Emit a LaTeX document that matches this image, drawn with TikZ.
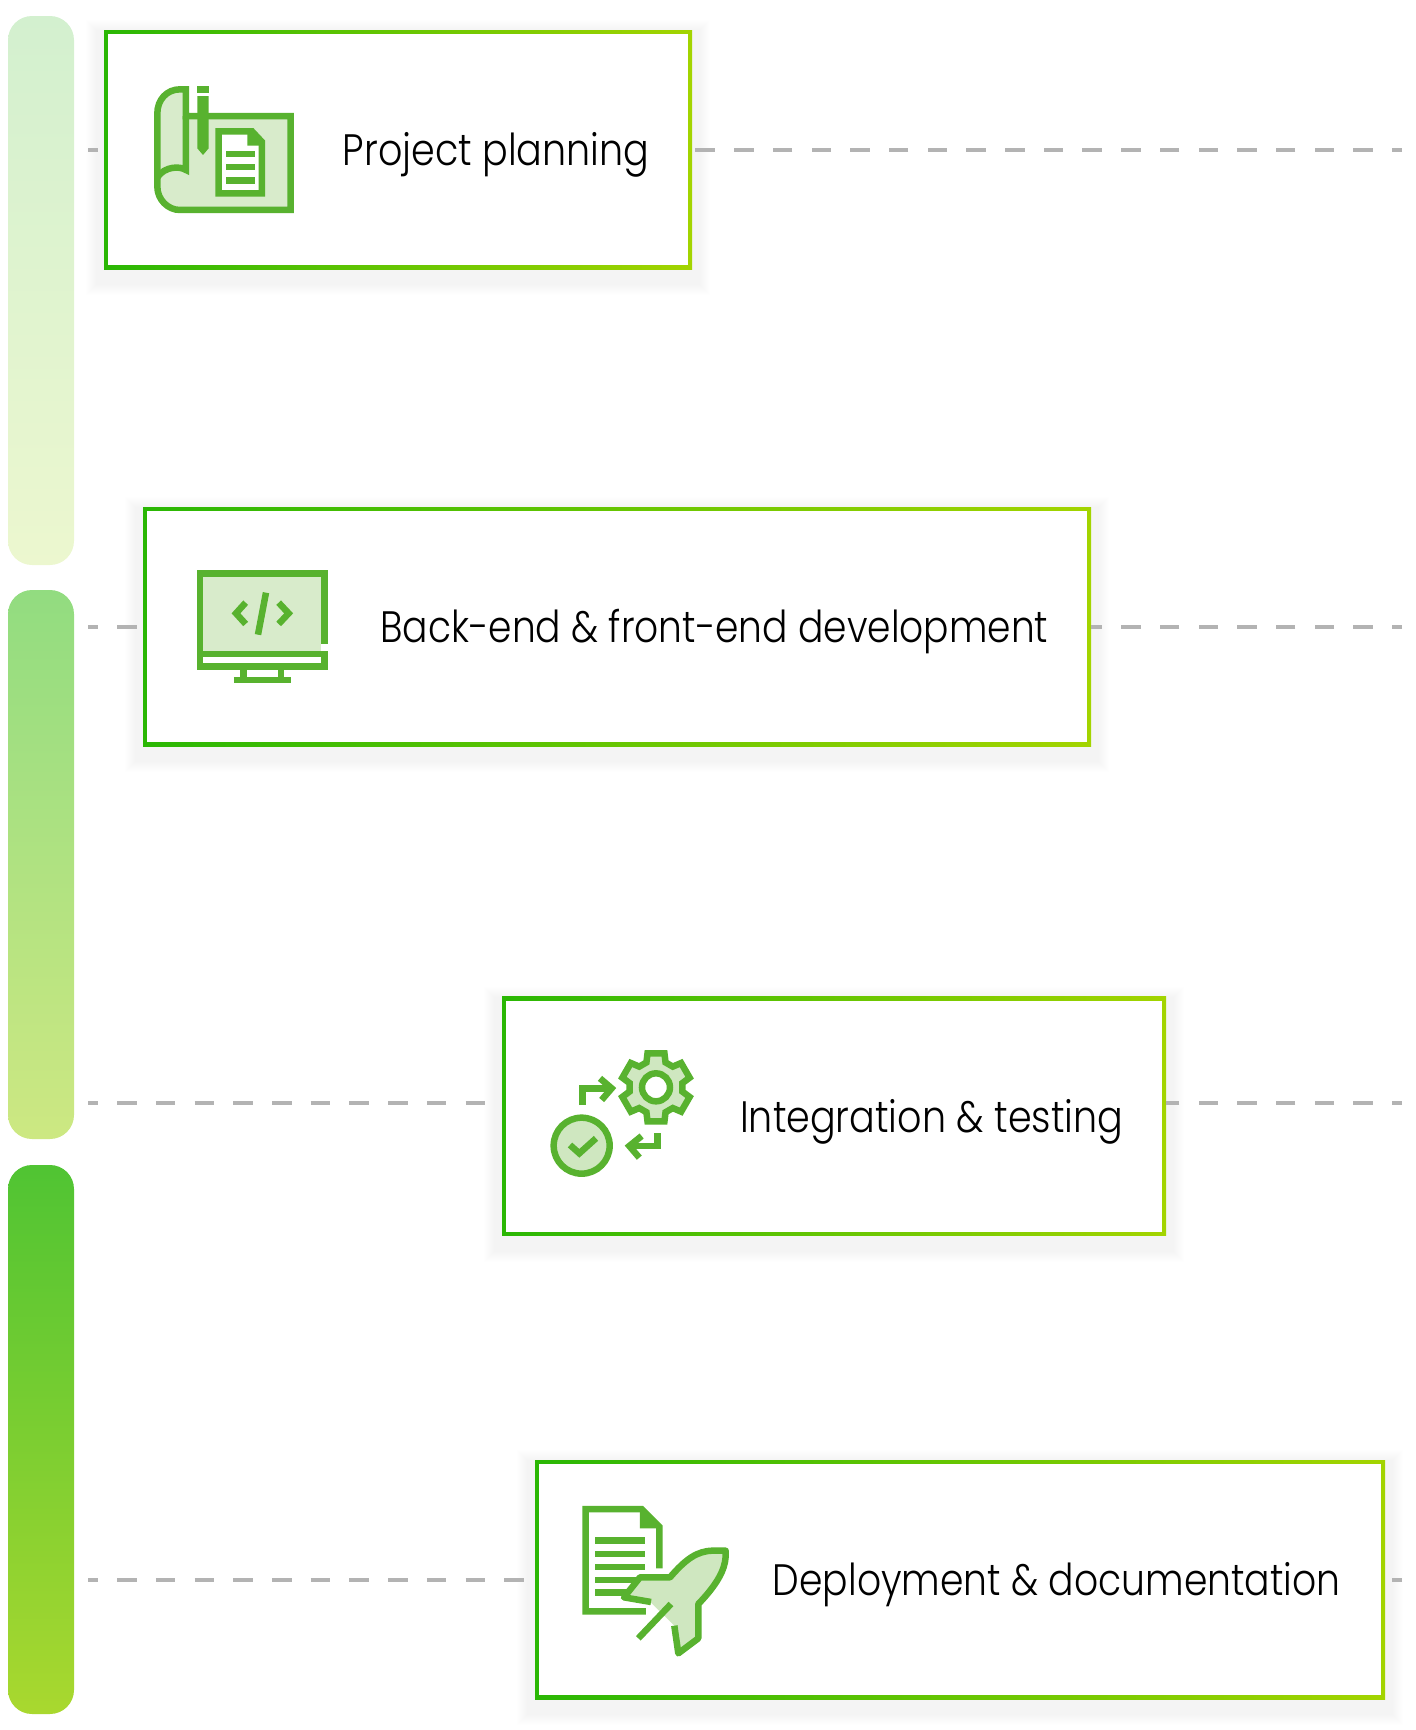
\documentclass[tikz,border=0pt]{standalone}
\usepackage{graphicx}
\usepackage{fontspec}
\setmainfont{Poppins}[UprightFont=* Light]
\definecolor{iconstroke}{HTML}{58B22F}
\definecolor{iconfill}{HTML}{D8EBCB}
\definecolor{iconfilltwo}{HTML}{CFE7C0}
\definecolor{frameleft}{HTML}{2AB704}
\definecolor{frameright}{HTML}{A3D400}
\definecolor{tapgray}{HTML}{B3B3B3}
\definecolor{baronetop}{HTML}{D3F0CF}
\definecolor{baronebot}{HTML}{ECF7CF}
\definecolor{bartwotop}{HTML}{92DC80}
\definecolor{bartwobot}{HTML}{CDE882}
\definecolor{barthreetop}{HTML}{50C433}
\definecolor{barthreebot}{HTML}{A9D82F}
\newcommand{\steptext}[2]{\resizebox{#1pt}{\height}{#2}}
\tikzset{
  softlayer/.style={preaction={draw=black, line width=#1, opacity=.0045,
    transform canvas={yshift=-8pt}}},
  softshadow/.style={softlayer=36pt, softlayer=34pt, softlayer=32pt, softlayer=30pt,
    softlayer=28pt, softlayer=26pt, softlayer=24pt, softlayer=22pt, softlayer=20pt,
    softlayer=18pt, softlayer=16pt},
  stepframe/.style={rectangle, inner sep=0pt, outer sep=0pt, minimum height=239pt,
    softshadow, shade, left color=frameleft, right color=frameright,
    path picture={\fill[white] ([shift={(4pt,4pt)}]path picture bounding box.south west)
      rectangle ([shift={(-4pt,-4pt)}]path picture bounding box.north east);}},
  phasebar/.style={rectangle, inner sep=0pt, outer sep=0pt, minimum width=66pt,
    minimum height=549pt, rounded corners=24pt, shade},
  tapline/.style={tapgray, line width=4pt, dash pattern=on 19.5pt off 19.2pt, dash phase=9.5pt},
  steplabel/.style={anchor=base west, inner sep=0pt, font=\fontsize{44pt}{44pt}\selectfont},
  iconline/.style={iconstroke, line width=6.5pt},
  icon/.style={shift={#1}, scale=0.3333}
}

\begin{document}
\begin{tikzpicture}[x=1pt, y=-1pt]
  \useasboundingbox (0,0) rectangle (1416,1730);

  \node [phasebar, top color=baronetop, bottom color=baronebot] (bar1) at (41,290.5) {};
  \node [phasebar, top color=bartwotop, bottom color=bartwobot] (bar2) at (41,864.5) {};
  \node [phasebar, top color=barthreetop, bottom color=barthreebot] (bar3) at (41,1439.5) {};

  \foreach \i/\y in {1/149.7, 2/626.5, 3/1103, 4/1580} {
    \coordinate (ltap\i) at (88,\y);
    \coordinate (rtap\i) at (1402,\y);
  }

  \node [stepframe, minimum width=588pt] (box1) at (398,149.5) {};
  \node [stepframe, minimum width=948pt] (box2) at (617,626.5) {};
  \node [stepframe, minimum width=664pt] (box3) at (834,1116) {};
  \node [stepframe, minimum width=850pt] (box4) at (960,1579.5) {};

  \foreach \i in {1,...,4} {
    \draw [tapline] (ltap\i) -- (ltap\i -| box\i.west);
    \draw [tapline] (rtap\i) -- (rtap\i -| box\i.east);
  }

  \node [steplabel] (label1) at (342.7,165) {\steptext{306.3}{Project planning}};
  \node [steplabel] (label2) at (380,642.7) {\steptext{668}{Back-end \& front-end development}};
  \node [steplabel] (label3) at (740,1132.7) {\steptext{383}{Integration \& testing}};
  \node [steplabel] (label4) at (772.7,1595) {\steptext{567.5}{Deployment \& documentation}};

  \begin{scope}[icon={(140,80)}]
    \draw [iconline, fill=iconfill] (138,108) -- (452,108) -- (452,390) -- (120,390)
      .. controls (83,390) and (52,358) .. (52,320) -- (52,100)
      .. controls (52,60) and (80,28) .. (120,28) -- (138,28) -- cycle;
    \draw [iconline] (138,108) -- (138,270) .. controls (120,258) and (75,258) .. (52,292);
    \fill [iconstroke] (172,18) rectangle (206,38);
    \fill [iconstroke] (172,48) -- (206,48) -- (206,205) -- (189,225) -- (172,205) -- cycle;
    \draw [iconline, fill=white] (236,154) -- (336,154) -- (366,186) -- (366,340) -- (236,340) -- cycle;
    \fill [iconstroke] (322,150) -- (322,197) -- (366,197) -- (336,154) -- cycle;
    \foreach \y in {213,252,292}
      \fill [iconstroke] (258,\y) rectangle (344,\y+19);
  \end{scope}

  \begin{scope}[icon={(130,500)}]
    \fill [iconfill] (220,230) rectangle (574,452);
    \draw [iconline] (584,432) -- (584,220) -- (210,220) -- (210,500) -- (584,500) -- (584,452);
    \draw [iconline] (210,462) -- (594,462);
    \draw [iconline] (341,510) -- (341,530) (453,510) -- (453,530);
    \draw [iconline] (312,540) -- (482,540);
    \draw [iconline] (347,308) -- (318,340) -- (347,372);
    \draw [iconline] (408,278) -- (384,404);
    \draw [iconline] (446,308) -- (476,340) -- (446,372);
  \end{scope}

  \begin{scope}[icon={(490,990)}]
    \begin{scope}[shift={(498,292)}]
      \draw [iconline, fill=iconfilltwo] (76:105)
        \foreach \a in {90,30,-30,-90,-150,-210} {
          -- (\a-14:105) -- (\a-21:80) -- (\a-39:80) -- (\a-46:105)
        } -- cycle;
      \draw [iconline, fill=white] (0,0) circle (42);
    \end{scope}
    \draw [iconline] (277,345) -- (277,295) -- (355,295);
    \draw [iconline] (330,265) -- (365,295) -- (335,330);
    \draw [iconline] (502,430) -- (502,468) -- (425,468);
    \draw [iconline] (455,438) -- (418,468) -- (448,503);
    \draw [iconline, fill=iconfilltwo] (275,467) circle (84);
    \draw [iconline] (240,465) -- (268,490) -- (318,445);
  \end{scope}

  \begin{scope}[icon={(530,1460)}]
    \draw [iconline] (388,325) -- (388,200) -- (335,147) -- (167,147) -- (167,454) -- (348,454);
    \fill [iconstroke] (330,147) -- (330,205) -- (388,205) -- (335,147) -- cycle;
    \foreach \y/\e in {232/345, 272/345, 311/345, 350/325, 388/290}
      \fill [iconstroke] (195,\y) rectangle (\e,\y+19);
    \fill [iconfilltwo] (360,425) -- (285,412) -- (330,352) -- (420,352)
      .. controls (465,300) and (500,272) .. (550,272) -- (587,272) -- (587,290)
      .. controls (585,330) and (560,375) .. (505,432) -- (505,535) -- (445,580) -- (433,497) -- cycle;
    \draw [iconline, line join=round] (363,426) -- (282,412) -- (330,352) -- (420,352)
      .. controls (465,300) and (500,272) .. (550,272) -- (587,272) -- (587,290)
      .. controls (585,330) and (560,375) .. (505,432) -- (505,535) -- (445,580) -- (433,497);
    \draw [iconline] (423,432) -- (325,535);
  \end{scope}
\end{tikzpicture}
\end{document}
